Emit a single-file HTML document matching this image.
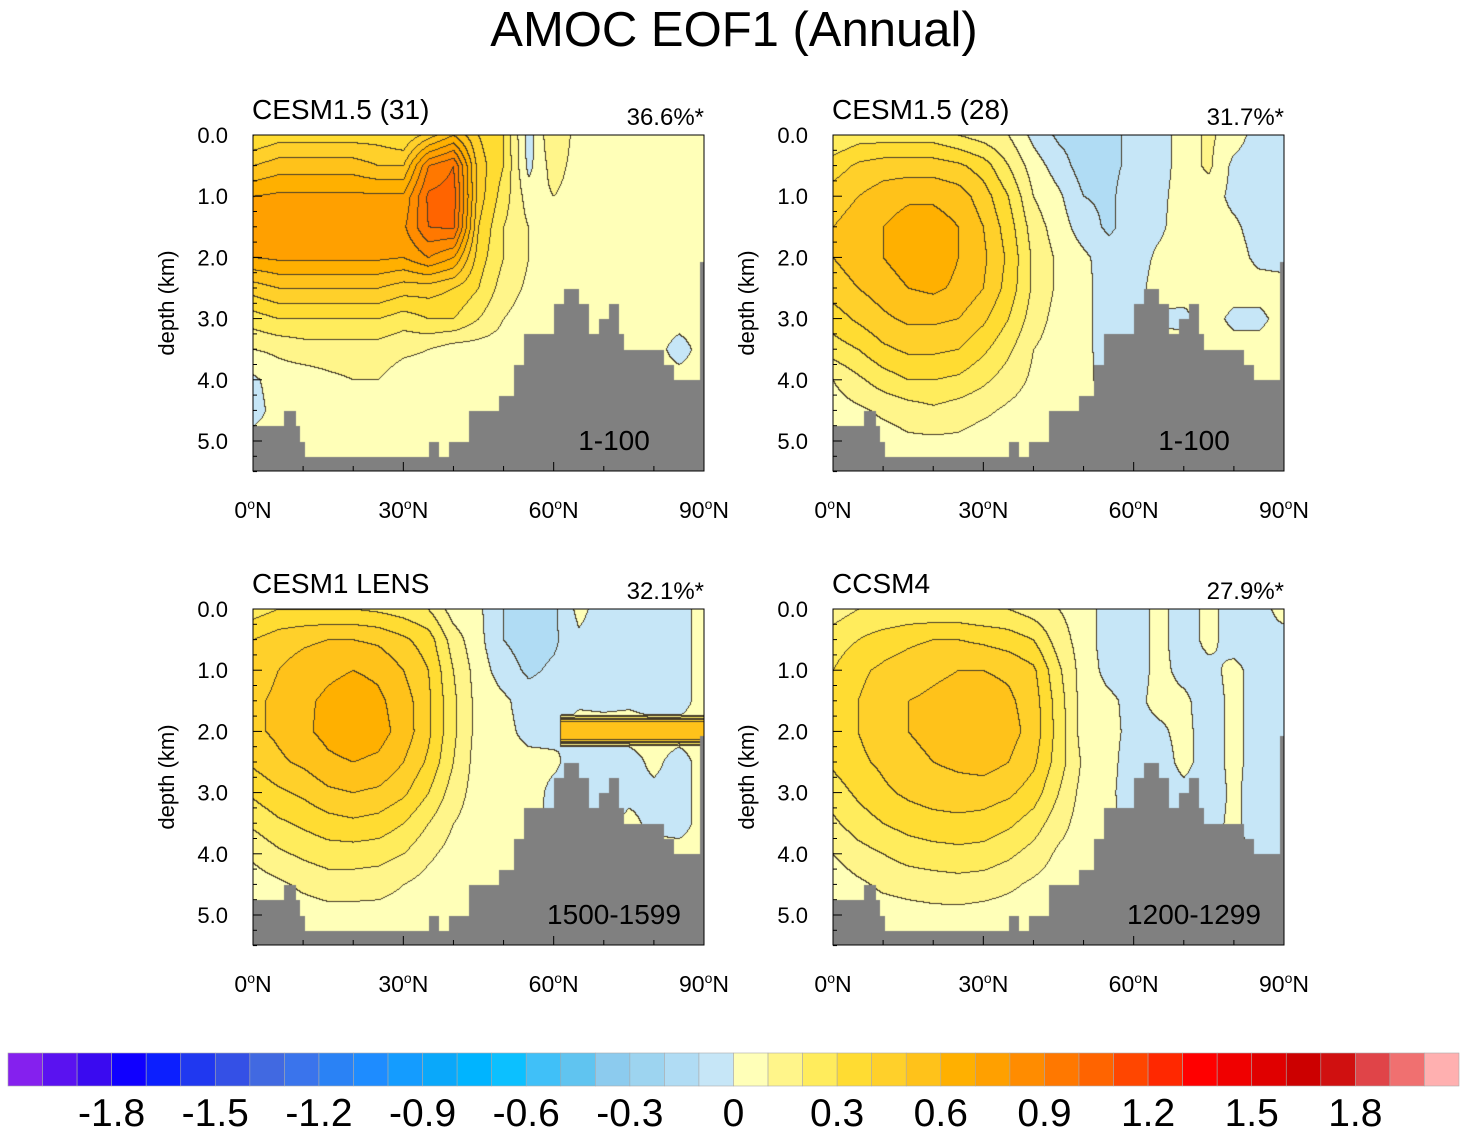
<!DOCTYPE html>
<html><head><meta charset="utf-8"><style>
body{margin:0;background:#fff;width:1468px;height:1135px;overflow:hidden;position:relative;font-family:"Liberation Sans",sans-serif}
canvas{position:absolute}
svg{position:absolute;left:0;top:0}
</style></head><body>
<canvas id="c0" width="451" height="336" style="left:253px;top:135px"></canvas>
<canvas id="c1" width="451" height="336" style="left:833px;top:135px"></canvas>
<canvas id="c2" width="451" height="336" style="left:253px;top:609px"></canvas>
<canvas id="c3" width="451" height="336" style="left:833px;top:609px"></canvas>
<svg id="s" width="1468" height="1135">
<text x="734" y="46" text-anchor="middle" font-size="49">AMOC EOF1 (Annual)</text>
</svg>
<script>
// ---- data ----
const colors=["#8520ee","#5a12f0","#3a0af0","#1000ff","#0c1ffe","#2038f0","#3450e6","#4169e1","#3a74ec","#2a82f5","#1e8cff","#149cff","#0aa8fa","#00b4ff","#0cc0ff","#40c0f8","#60c4f0","#8ccbee","#9dd4f0","#b0dcf4","#c6e6f7","#ffffb8","#fff58a","#ffec5c","#ffdc32","#ffd02a","#ffc21a","#ffb000","#ffa000","#ff8c00","#ff7800","#ff6400","#ff4600","#ff2800","#ff0000","#f00000","#e00000","#cc0000","#d01010","#e04448","#f07070","#ffb0b0"];
const cbLabels=["-1.8","-1.5","-1.2","-0.9","-0.6","-0.3","0","0.3","0.6","0.9","1.2","1.5","1.8"];
const lats=[0,5,10,15,20,25,30,35,40,45,50,55,60,65,70,75,80,85,90];
const depths=[0,0.5,1,1.5,2,2.5,3,3.5,4,4.5,5,5.5];
const titles=["CESM1.5 (31)","CESM1.5 (28)","CESM1 LENS","CCSM4"];
const pcts=["36.6%*","31.7%*","32.1%*","27.9%*"];
const periods=["1-100","1-100","1500-1599","1200-1299"];
const bathyLat=[0,6,8.4,9.2,10.3,35,37,39,43,49,52,54,60,62,65,67,69,71,73,74,82,84,89.2];
const bathyDep=[4.75,4.5,4.75,5.0,5.25,5.0,5.25,5.0,4.5,4.25,3.75,3.25,2.75,2.5,2.75,3.25,3.0,2.75,3.25,3.5,3.75,4.0,2.07];
const f0=[
[0.3,0.35,0.35,0.35,0.35,0.35,0.3,0.45,0.6,0.4,0.3,-0.05,0.2,0.05,0.02,0.05,0.05,0.05,0.05],
[0.5,0.55,0.55,0.55,0.55,0.5,0.5,0.9,1.0,0.45,0.3,-0.03,0.15,0.05,0.1,0.05,0.05,0.05,0.05],
[0.7,0.72,0.72,0.72,0.72,0.72,0.72,1.02,1.05,0.45,0.25,0.05,0.1,0.05,0.1,0.05,0.05,0.05,0.05],
[0.8,0.8,0.8,0.8,0.8,0.8,0.78,1.0,1.02,0.4,0.2,0.1,0.05,0.05,0.1,0.05,0.05,0.05,0.05],
[0.7,0.72,0.72,0.72,0.72,0.72,0.7,0.8,0.7,0.35,0.2,0.1,0.05,0.05,0.05,0.05,0.05,0.05,0.05],
[0.45,0.5,0.5,0.5,0.5,0.5,0.45,0.45,0.4,0.3,0.15,0.08,0.05,0.05,0.05,0.05,0.05,0.05,0.05],
[0.25,0.3,0.3,0.3,0.3,0.3,0.25,0.3,0.3,0.2,0.1,0.05,0.05,0.05,0.05,0.05,0.05,0.05,0.05],
[0.1,0.12,0.15,0.15,0.15,0.15,0.12,0.1,0.05,0.05,0.05,0.05,0.05,0.05,0.05,0.05,0.05,-0.05,0.05],
[-0.02,0.05,0.05,0.08,0.1,0.1,0.05,0.05,0.05,0.05,0.05,0.05,0.05,0.05,0.05,0.05,0.05,0.05,0.05],
[-0.05,0.05,0.05,0.05,0.05,0.05,0.05,0.05,0.05,0.05,0.05,0.05,0.05,0.05,0.05,0.05,0.05,0.05,0.05],
[0.05,0.05,0.05,0.05,0.05,0.05,0.05,0.05,0.05,0.05,0.05,0.05,0.05,0.05,0.05,0.05,0.05,0.05,0.05],
[0.05,0.05,0.05,0.05,0.05,0.05,0.05,0.05,0.05,0.05,0.05,0.05,0.05,0.05,0.05,0.05,0.05,0.05,0.05]];
const f1=[
[0.2,0.25,0.25,0.25,0.25,0.2,0.15,0.1,-0.03,-0.12,-0.15,-0.12,-0.08,-0.05,0.05,0.12,0.05,-0.05,-0.05],
[0.35,0.42,0.45,0.45,0.45,0.42,0.35,0.2,0.05,-0.05,-0.15,-0.12,-0.08,-0.05,0.05,0.12,-0.03,-0.05,-0.05],
[0.45,0.5,0.55,0.58,0.58,0.55,0.45,0.3,0.1,0.02,-0.1,-0.12,-0.05,-0.03,0.05,0.05,-0.03,-0.05,-0.05],
[0.5,0.55,0.6,0.65,0.65,0.6,0.5,0.35,0.15,0.05,-0.05,-0.12,-0.05,-0.02,0.05,0.05,0.02,-0.05,-0.05],
[0.5,0.55,0.6,0.65,0.66,0.6,0.52,0.38,0.18,0.08,0.02,-0.05,-0.05,0.02,0.05,0.05,0.05,-0.03,-0.05],
[0.45,0.5,0.55,0.6,0.62,0.58,0.5,0.36,0.18,0.08,0.03,-0.05,-0.05,0.05,0.05,0.05,0.05,0.05,0.05],
[0.35,0.42,0.48,0.52,0.52,0.5,0.42,0.3,0.15,0.06,0.03,-0.05,-0.03,-0.02,-0.03,0.05,-0.03,-0.03,0.05],
[0.25,0.3,0.38,0.42,0.42,0.4,0.32,0.22,0.1,0.05,0.03,-0.05,-0.03,0.05,0.05,0.05,0.05,0.05,0.05],
[0.1,0.18,0.25,0.3,0.3,0.28,0.22,0.15,0.08,0.05,0.02,-0.03,0.05,0.05,0.05,0.05,0.05,0.05,0.05],
[0.05,0.08,0.12,0.15,0.18,0.15,0.12,0.08,0.05,0.05,0.05,0.05,0.05,0.05,0.05,0.05,0.05,0.05,0.05],
[-0.02,0.05,0.05,0.08,0.08,0.08,0.05,0.05,0.05,0.05,0.05,0.05,0.05,0.05,0.05,0.05,0.05,0.05,0.05],
[0.05,0.05,0.05,0.05,0.05,0.05,0.05,0.05,0.05,0.05,0.05,0.05,0.05,0.05,0.05,0.05,0.05,0.05,0.05]];
const f2=[
[0.25,0.3,0.3,0.3,0.3,0.28,0.25,0.2,0.05,0.02,-0.1,-0.15,-0.12,0.03,-0.05,-0.05,-0.05,-0.05,0.05],
[0.4,0.45,0.48,0.5,0.5,0.48,0.42,0.35,0.15,0.03,-0.1,-0.15,-0.12,-0.02,-0.05,-0.05,-0.05,-0.05,0.05],
[0.45,0.5,0.55,0.58,0.6,0.58,0.5,0.4,0.2,0.05,-0.05,-0.12,-0.08,-0.05,-0.05,-0.05,-0.05,-0.05,0.05],
[0.48,0.52,0.58,0.62,0.65,0.62,0.55,0.42,0.22,0.06,0.02,-0.05,-0.05,-0.02,-0.03,-0.02,-0.05,-0.05,0.05],
[0.48,0.52,0.58,0.63,0.66,0.64,0.56,0.42,0.22,0.06,0.03,-0.03,-0.03,0.05,0.05,0.05,0.05,0.05,0.05],
[0.42,0.48,0.52,0.58,0.6,0.58,0.5,0.38,0.2,0.05,0.04,0.03,0.02,-0.05,-0.05,-0.05,0.03,-0.05,0.05],
[0.32,0.38,0.42,0.48,0.5,0.48,0.42,0.3,0.15,0.05,0.05,0.05,-0.03,-0.05,-0.05,-0.03,-0.03,-0.05,0.05],
[0.22,0.28,0.32,0.36,0.38,0.36,0.3,0.2,0.1,0.05,0.05,0.03,-0.03,-0.05,-0.05,0.03,-0.03,-0.05,0.05],
[0.12,0.18,0.22,0.25,0.25,0.24,0.2,0.12,0.06,0.05,0.05,0.05,0.05,0.05,0.05,0.05,0.05,0.05,0.05],
[0.05,0.08,0.12,0.15,0.15,0.14,0.1,0.06,0.05,0.05,0.05,0.05,0.05,0.05,0.05,0.05,0.05,0.05,0.05],
[0.05,0.05,0.05,0.06,0.06,0.06,0.05,0.05,0.05,0.05,0.05,0.05,0.05,0.05,0.05,0.05,0.05,0.05,0.05],
[0.05,0.05,0.05,0.05,0.05,0.05,0.05,0.05,0.05,0.05,0.05,0.05,0.05,0.05,0.05,0.05,0.05,0.05,0.05]];
const f3=[
[0.15,0.2,0.2,0.22,0.22,0.22,0.2,0.2,0.15,0.1,0.05,-0.05,-0.05,0.03,-0.05,0.03,-0.05,-0.05,0.05],
[0.25,0.3,0.35,0.38,0.4,0.4,0.38,0.35,0.3,0.15,0.05,-0.05,-0.05,0.03,-0.05,0.03,-0.05,-0.03,-0.05],
[0.3,0.38,0.42,0.45,0.48,0.5,0.5,0.48,0.42,0.22,0.05,-0.03,-0.05,0.03,-0.03,-0.03,0.03,-0.05,-0.05],
[0.35,0.4,0.45,0.5,0.52,0.54,0.55,0.52,0.45,0.25,0.05,0.02,-0.03,0.03,0.02,-0.05,0.03,-0.05,-0.05],
[0.35,0.4,0.45,0.5,0.52,0.55,0.56,0.54,0.46,0.26,0.05,0.03,-0.03,-0.02,0.03,-0.05,0.03,-0.05,-0.05],
[0.32,0.38,0.42,0.48,0.5,0.52,0.54,0.5,0.42,0.25,0.08,0.03,-0.05,-0.05,0.03,-0.05,0.03,-0.05,-0.05],
[0.25,0.32,0.38,0.42,0.45,0.46,0.45,0.42,0.35,0.2,0.06,0.02,-0.05,-0.05,-0.03,-0.05,0.02,-0.05,-0.05],
[0.18,0.25,0.3,0.34,0.36,0.37,0.36,0.32,0.25,0.14,0.05,0.02,-0.03,-0.03,-0.03,-0.03,0.02,-0.05,-0.05],
[0.1,0.16,0.2,0.24,0.26,0.27,0.26,0.22,0.16,0.08,0.05,0.05,0.05,0.05,0.05,0.05,0.05,-0.05,-0.05],
[0.04,0.08,0.12,0.14,0.15,0.16,0.15,0.12,0.08,0.05,0.05,0.05,0.05,0.05,0.05,0.05,0.05,0.05,0.05],
[-0.02,0.05,0.05,0.06,0.07,0.07,0.06,0.05,0.05,0.05,0.05,0.05,0.05,0.05,0.05,0.05,0.05,0.05,0.05],
[0.05,0.05,0.05,0.05,0.05,0.05,0.05,0.05,0.05,0.05,0.05,0.05,0.05,0.05,0.05,0.05,0.05,0.05,0.05]];
const fields=[f0,f1,f2,f3];
// LENS deep band anomaly
const bandLat=[61.3,90];const bandDep=[1.72,2.25];const bandVal=0.58;

const PW=451,PH=336,KM=61.2,DEG=PW/90;
function xOf(lat){return lat*DEG}
function yOf(d){return d*KM}
function sample(f,lat,d){
  let i=Math.min(lats.length-2,Math.max(0,Math.floor(lat/5)));
  let j=Math.min(depths.length-2,Math.max(0,Math.floor(d/0.5)));
  let tx=(lat-lats[i])/5,ty=(d-depths[j])/0.5;
  tx=Math.max(0,Math.min(1,tx));ty=Math.max(0,Math.min(1,ty));
  return f[j][i]*(1-tx)*(1-ty)+f[j][i+1]*tx*(1-ty)+f[j+1][i]*(1-tx)*ty+f[j+1][i+1]*tx*ty;
}
function hex(c){return [parseInt(c.slice(1,3),16),parseInt(c.slice(3,5),16),parseInt(c.slice(5,7),16)]}
const rgb=colors.map(hex);
function bathyAt(lat){let d=bathyDep[0];for(let k=0;k<bathyLat.length;k++){if(lat>=bathyLat[k])d=bathyDep[k];}return d}
fields.forEach((f,p)=>{
  const cv=document.getElementById('c'+p),ctx=cv.getContext('2d');
  const img=ctx.createImageData(PW,PH);const bins=new Int16Array(PW*PH);
  for(let y=0;y<PH;y++)for(let x=0;x<PW;x++){
    const lat=x/DEG,d=y/KM;let v=sample(f,lat,d);
    if(p===2&&lat>=bandLat[0]&&d>=bandDep[0]&&d<=bandDep[1]){
      const m=(bandDep[0]+bandDep[1])/2,h=(bandDep[1]-bandDep[0])/2;v=v+(bandVal-v)*Math.min(1,(1-Math.abs(d-m)/h)*2);}
    let b=Math.floor(v/0.1)+21;b=Math.max(0,Math.min(41,b));bins[y*PW+x]=b;
  }
  for(let y=0;y<PH;y++)for(let x=0;x<PW;x++){
    const k=y*PW+x,b=bins[k];let c=rgb[b];
    const edge=(x<PW-1&&bins[k+1]!==b)||(y<PH-1&&bins[k+PW]!==b);
    if(edge)c=[70,60,40];
    if(y/KM>bathyAt(x/DEG))c=[128,128,128];
    img.data[k*4]=c[0];img.data[k*4+1]=c[1];img.data[k*4+2]=c[2];img.data[k*4+3]=255;
  }
  ctx.putImageData(img,0,0);
});
// ---- axes ----
const s=document.getElementById('s');const NS='http://www.w3.org/2000/svg';
function el(t,a,txt){const e=document.createElementNS(NS,t);for(const k in a)e.setAttribute(k,a[k]);if(txt!==undefined)e.textContent=txt;s.appendChild(e);return e}
const origins=[[253,135],[833,135],[253,609],[833,609]];
const yTicks=[0,1,2,3,4,5];const xTicks=[0,30,60,90];const xLabels=["0","30","60","90"];
origins.forEach(([ox,oy],p)=>{
  const fr=el('rect',{x:ox,y:oy,width:PW,height:PH,fill:'none',stroke:'#000','stroke-width':1});
  
  for(let d=0;d<=5.5001;d+=0.25){const maj=Math.abs(d-Math.round(d))<1e-6;
    el('line',{x1:ox,x2:ox+(maj?9:4),y1:oy+yOf(d),y2:oy+yOf(d),stroke:'#000'});}
  for(let l=0;l<=90;l+=10){const maj=l%30===0;
    el('line',{x1:ox+xOf(l),x2:ox+xOf(l),y1:oy+PH,y2:oy+PH-(maj?9:5),stroke:'#000'});}
  yTicks.forEach(d=>{const t=el('text',{x:ox-25,y:oy+yOf(d)+8,'text-anchor':'end','font-size':22},d.toFixed(1));
    });
  xTicks.forEach((l,i)=>{const t=el('text',{x:ox+xOf(l),y:oy+PH+47,'text-anchor':'middle','font-size':23});
    
    t.innerHTML=xLabels[i]+'<tspan dy="-9" font-size="14">o</tspan><tspan dy="9">N</tspan>';});
  const yl=el('text',{x:0,y:0,transform:`translate(${ox-79},${oy+168}) rotate(-90)`,'text-anchor':'middle','font-size':22},'depth (km)');
  
  const ti=el('text',{x:ox-1,y:oy-16,'font-size':28},titles[p]);
  
  const pc=el('text',{x:ox+PW,y:oy-10,'text-anchor':'end','font-size':24},pcts[p]);
  
  const pe=el('text',{x:ox+361,y:oy+315,'text-anchor':'middle','font-size':28},periods[p]);
  
});
// ---- colorbar ----
const cbX=8,cbY=1053,cbW=(1459-8)/colors.length,cbH=33;
colors.forEach((c,i)=>{const r=el('rect',{x:cbX+i*cbW,y:cbY,width:cbW,height:cbH,fill:c,stroke:'#aaa','stroke-width':0.6});
  });
cbLabels.forEach((l,i)=>{const t=el('text',{x:cbX+(3+i*3)*cbW,y:1126,'text-anchor':'middle','font-size':39},l);
  });
</script>
</body></html>
